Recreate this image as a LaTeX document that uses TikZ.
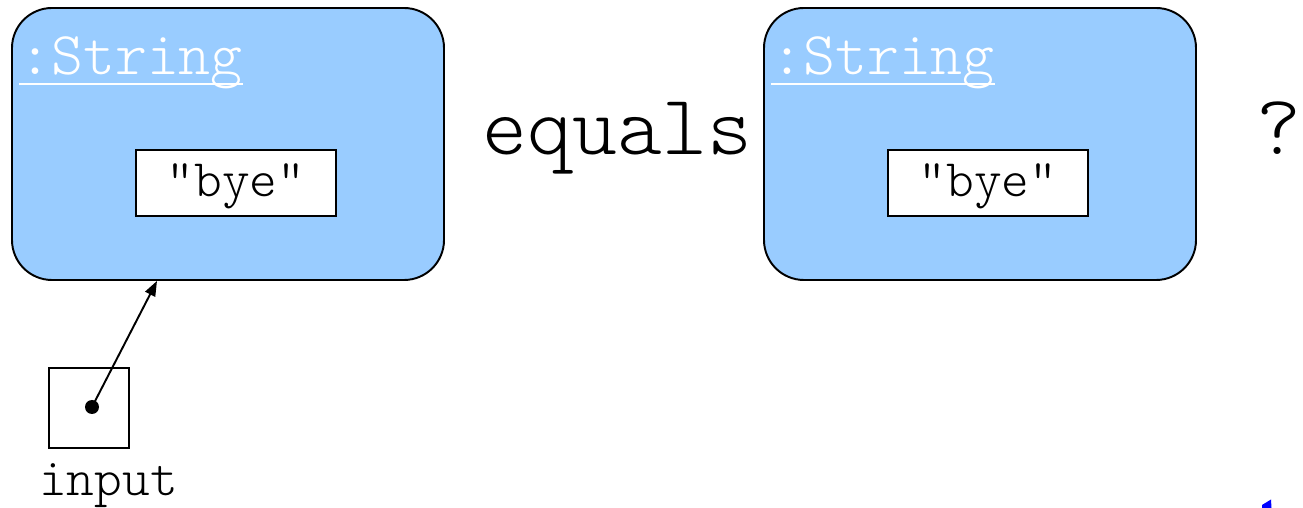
\documentclass[tikz,border=0pt]{standalone}
\usepackage{fontspec}
\setmonofont{Latin Modern Mono Light}
\usetikzlibrary{arrows.meta,positioning,calc}

\definecolor{objblue}{HTML}{99CCFF}

\tikzset{
  objbox/.style={draw=black, line width=1.1pt, rounded corners=0.8cm,
    fill=objblue, minimum width=8.64cm, minimum height=5.44cm},
  valbox/.style={draw=black, line width=0.9pt, fill=white,
    minimum width=4cm, minimum height=1.32cm},
  valtext/.style={anchor=base, inner sep=0pt,
    font=\ttfamily\fontsize{30}{36}\selectfont},
  classname/.style={anchor=base west, inner sep=0pt, text=white,
    font=\ttfamily\fontsize{34.6}{40}\selectfont},
  bigword/.style={anchor=base, inner sep=0pt,
    font=\ttfamily\fontsize{48.6}{56}\selectfont}
}

\begin{document}
\begin{tikzpicture}
\useasboundingbox (0,0) rectangle (26.06,10.16);

% -------- first String object --------
\node[objbox] (leftobj) at (4.56,7.28) {};
\node[classname] (leftname) at ([xshift=0.16cm,yshift=-1.34cm]leftobj.north west) {:String};
\draw[white, line width=1.1pt] ([yshift=-0.2cm]leftname.base west) -- ([yshift=-0.2cm]leftname.base east);
\node[valbox] (leftval) at (4.72,6.5) {};
\node[valtext] (leftvaltext) at (4.72,6.22) {"bye"};

% -------- second String object --------
\node[objbox] (rightobj) at (19.6,7.28) {};
\node[classname] (rightname) at ([xshift=0.16cm,yshift=-1.34cm]rightobj.north west) {:String};
\draw[white, line width=1.1pt] ([yshift=-0.2cm]rightname.base west) -- ([yshift=-0.2cm]rightname.base east);
\node[valbox] (rightval) at (19.76,6.5) {};
\node[valtext] (rightvaltext) at (19.76,6.22) {"bye"};

% -------- the question --------
\node[bigword] (eqword) at (12.35,7.06) {equals};
\node[bigword] (qmark) at (25.58,7.06) {?};

% -------- reference variable --------
\node[draw=black, line width=0.9pt, minimum size=1.6cm] (inputvar) at (1.78,2.0) {};
\node[circle, fill=black, inner sep=0pt, minimum size=0.28cm] (inputdot) at (1.84,2.02) {};
\node[anchor=base, inner sep=0pt, font=\ttfamily\fontsize{30}{36}\selectfont]
  (inputlbl) at (2.17,0.24) {input};
\coordinate (inputtarget) at ([xshift=-1.42cm]leftobj.south);
\draw[line width=1.1pt, -{Triangle[length=0.3cm,width=0.22cm]}]
  (inputdot.center) -- (inputtarget);

% -------- corner mark --------
\fill[blue] (25.24,0) -- (25.24,0.06) -- (25.42,0.17) -- (25.43,0) -- cycle;

\end{tikzpicture}
\end{document}
